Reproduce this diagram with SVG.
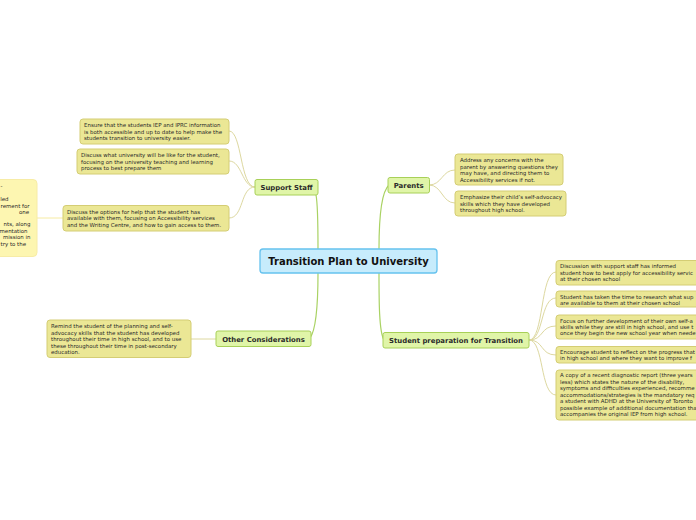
<svg xmlns="http://www.w3.org/2000/svg" width="696" height="520" viewBox="0 0 696 520">
<style>
text{font-family:"DejaVu Sans","Verdana",sans-serif;fill:#2a2a2a}
.leaf rect{fill:#ebe795;stroke:#d4cd74;stroke-width:1}
.leaf text{font-size:5.45px}
.br rect{fill:#e0f5a8;stroke:#a8d058;stroke-width:1}
.br text{font-size:6.9px;font-weight:bold;text-anchor:middle}
.main{fill:none;stroke:#a9d263;stroke-width:1.2}
.sub{fill:none;stroke:#ddd8a0;stroke-width:1}
</style>
<rect width="696" height="520" fill="#fff"/>
<g id="connectors">
<path class="main" d="M318,249 C318,225 318,205 316,195"/>
<path class="main" d="M318,273 C318,300 316,330 310,338"/>
<path class="main" d="M379,249 C379,222 381,192 389,185"/>
<path class="main" d="M379,273 C379,300 379,332 384,340"/>
<path class="sub" d="M255,187 C240,187 242,131 229,131"/>
<path class="sub" d="M255,187 C242,187 242,161 229,161"/>
<path class="sub" d="M255,187 C240,187 244,218 229,218"/>
<path class="sub" d="M429,185 C442,185 442,170 455,170"/>
<path class="sub" d="M429,185 C442,185 442,203 455,203"/>
<path class="sub" d="M529,340 C544,340 540,272 556,272"/>
<path class="sub" d="M529,340 C544,340 540,298 556,298"/>
<path class="sub" d="M529,340 C544,340 540,326 556,326"/>
<path class="sub" d="M529,340 C544,340 540,355 556,355"/>
<path class="sub" d="M529,340 C544,340 540,395 556,395"/>
<path class="sub" d="M216,339 L190,339"/>
<path fill="none" stroke="#f6eba2" stroke-width="1" d="M63,218 L37,218"/>
</g>
<g id="center">
<rect x="260" y="249" width="177" height="24" rx="3" fill="#c7ecfc" stroke="#66c2ee" stroke-width="1.3"/>
<text x="348.5" y="264.5" font-size="10" font-weight="bold" text-anchor="middle" style="fill:#111">Transition Plan to University</text>
</g>
<g id="support-staff" class="br">
<rect x="255" y="179.5" width="63" height="15.5" rx="2"/>
<text x="286.5" y="190">Support Staff</text>
</g>
<g id="parents" class="br">
<rect x="388" y="177.5" width="41.5" height="15.5" rx="2"/>
<text x="408.7" y="188">Parents</text>
</g>
<g id="other-considerations" class="br">
<rect x="216" y="331" width="95" height="15.5" rx="2"/>
<text x="263.5" y="341.5">Other Considerations</text>
</g>
<g id="student-prep" class="br">
<rect x="383" y="332.5" width="146" height="15.5" rx="2"/>
<text x="456" y="343">Student preparation for Transition</text>
</g>
<g id="ss1" class="leaf">
<rect x="80" y="119" width="149" height="25" rx="3"/>
<text x="84" y="127">Ensure that the students IEP and IPRC information</text>
<text x="84" y="133.5">is both accessible and up to date to help make the</text>
<text x="84" y="140">students transition to university easier.</text>
</g>
<g id="ss2" class="leaf">
<rect x="77" y="149" width="152" height="25" rx="3"/>
<text x="81" y="157">Discuss what university will be like for the student,</text>
<text x="81" y="163.5">focusing on the university teaching and learning</text>
<text x="81" y="170">process to best prepare them</text>
</g>
<g id="ss3" class="leaf">
<rect x="63" y="205.5" width="166" height="25.5" rx="3"/>
<text x="67" y="213.5">Discuss the options for help that the student has</text>
<text x="67" y="220">available with them, focusing on Accessibility services</text>
<text x="67" y="226.5">and the Writing Centre, and how to gain access to them.</text>
</g>
<g id="ss3-note">
<rect x="-20" y="179.5" width="57" height="77" rx="4" fill="#fdf6b1" stroke="#f7eca6" stroke-width="1"/>
<g font-size="5.45px" text-anchor="end">
<text x="2.5" y="188">-</text>
<text x="8.5" y="201">led</text>
<text x="29.5" y="207.5">rement for</text>
<text x="29" y="214">one</text>
<text x="30.5" y="226">nts, along</text>
<text x="27.5" y="232.5">mentation</text>
<text x="30.5" y="239">mission in</text>
<text x="26" y="245.5">try to the</text>
</g>
</g>
<g id="p1" class="leaf">
<rect x="455" y="154" width="108" height="31" rx="3"/>
<text x="460" y="162">Address any concerns with the</text>
<text x="460" y="168.5">parent by answering questions they</text>
<text x="460" y="175">may have, and directing them to</text>
<text x="460" y="181.5">Accessibility services if not.</text>
</g>
<g id="p2" class="leaf">
<rect x="455" y="191" width="111" height="25" rx="3"/>
<text x="460" y="199">Emphasize their child’s self-advocacy</text>
<text x="460" y="205.5">skills which they have developed</text>
<text x="460" y="212">throughout high school.</text>
</g>
<g id="oc1" class="leaf">
<rect x="47" y="320" width="144" height="37.5" rx="3"/>
<text x="51" y="328">Remind the student of the planning and self-</text>
<text x="51" y="334.5">advocacy skills that the student has developed</text>
<text x="51" y="341">throughout their time in high school, and to use</text>
<text x="51" y="347.5">these throughout their time in post-secondary</text>
<text x="51" y="354">education.</text>
</g>
<g id="sp1" class="leaf">
<rect x="556" y="260.5" width="160" height="24.5" rx="3"/>
<text x="560" y="268">Discussion with support staff has informed</text>
<text x="560" y="274.5">student how to best apply for accessibility servic</text>
<text x="560" y="281">at their chosen school</text>
</g>
<g id="sp2" class="leaf">
<rect x="556" y="291" width="160" height="16" rx="3"/>
<text x="560" y="298.5">Student has taken the time to research what sup</text>
<text x="560" y="305">are available to them at their chosen school</text>
</g>
<g id="sp3" class="leaf">
<rect x="556" y="315" width="160" height="24" rx="3"/>
<text x="560" y="323">Focus on further development of their own self-a</text>
<text x="560" y="329">skills while they are still in high school, and use t</text>
<text x="560" y="335">once they begin the new school year when neede</text>
</g>
<g id="sp4" class="leaf">
<rect x="556" y="346.5" width="160" height="16.5" rx="3"/>
<text x="560" y="353.5">Encourage student to reflect on the progress that</text>
<text x="560" y="359.5">in high school and where they want to improve f</text>
</g>
<g id="sp5" class="leaf">
<rect x="556" y="370" width="160" height="50" rx="3"/>
<text x="560" y="377">A copy of a recent diagnostic report (three years</text>
<text x="560" y="383.5">less) which states the nature of the disability,</text>
<text x="560" y="390">symptoms and difficulties experienced, recomme</text>
<text x="560" y="396.5">accommodations/strategies is the mandatory req</text>
<text x="560" y="403">a student with ADHD at the University of Toronto</text>
<text x="560" y="409.5">possible example of additional documentation tha</text>
<text x="560" y="416">accompanies the original IEP from high school.</text>
</g>
</svg>
